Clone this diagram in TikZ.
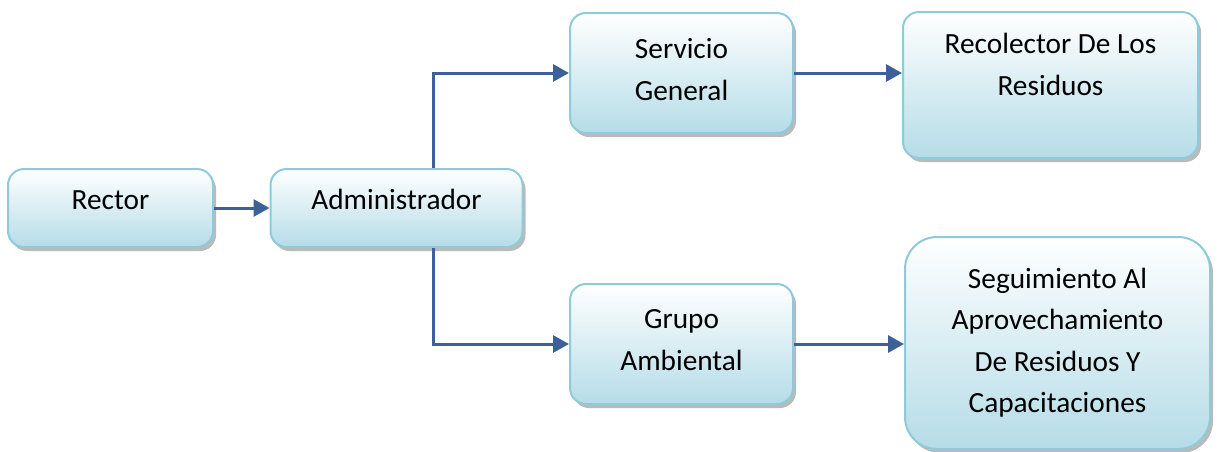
\documentclass[tikz,border=0pt]{standalone}
\usepackage{fontspec}
\setmainfont{Carlito}
\usetikzlibrary{arrows.meta,shadows,calc}
\definecolor{linkblue}{HTML}{3B6198}
\definecolor{boxedge}{HTML}{8ECBDA}
\definecolor{boxbottom}{HTML}{B5DCE7}
% centred lines of a box, with room left below them to lift the text
\newcommand\boxlines[2]{\begin{tabular}{@{}c@{}}#1\\[#2]\end{tabular}}
\begin{document}
\begin{tikzpicture}[x=1pt,y=-1pt,
  unit/.style={draw=boxedge, line width=2pt, rounded corners=#1,
    top color=white, bottom color=boxbottom,
    font=\fontsize{29.3}{41.5}\selectfont, inner sep=0pt,
    drop shadow={shadow xshift=3pt, shadow yshift=-4pt, fill=black!45, opacity=0.6}},
  unit/.default=16pt,
  link/.style={draw=linkblue, line width=3pt,
    -{Triangle[length=16pt,width=17pt]}}]
\useasboundingbox (0,0) rectangle (1220,451);

% boxes, placed by centre with their pixel sizes
\node[unit, minimum width=205pt, minimum height=78pt] (rector) at (110.5,208)
  {\boxlines{Rector}{14pt}};
\node[unit, minimum width=252pt, minimum height=78pt] (admin) at (396.5,208)
  {\boxlines{Administrador}{14pt}};
\node[unit, minimum width=223pt, minimum height=120pt] (serv) at (681.5,73)
  {\boxlines{Servicio\\General}{4pt}};
\node[unit, minimum width=295pt, minimum height=146pt] (recol) at (1050.5,85)
  {\boxlines{Recolector De Los\\Residuos}{38pt}};
\node[unit, minimum width=223pt, minimum height=120pt] (grupo) at (681.5,344)
  {\boxlines{Grupo\\Ambiental}{6pt}};
\node[unit=32pt, minimum width=305pt, minimum height=212pt] (segui) at (1057.5,343)
  {\boxlines{Seguimiento Al\\Aprovechamiento\\De Residuos Y\\Capacitaciones}{2pt}};

% branching column under and over the administrator box
\coordinate (branch) at (433,0);

\draw[link] (rector.east) -- (admin.west);
\draw[link] (admin.north -| branch) |- (serv.west);
\draw[link] (admin.south -| branch) |- (grupo.west);
\draw[link] (serv.east) -- (serv.east -| recol.west);
\draw[link] (grupo.east) -- (grupo.east -| segui.west);
\end{tikzpicture}
\end{document}
